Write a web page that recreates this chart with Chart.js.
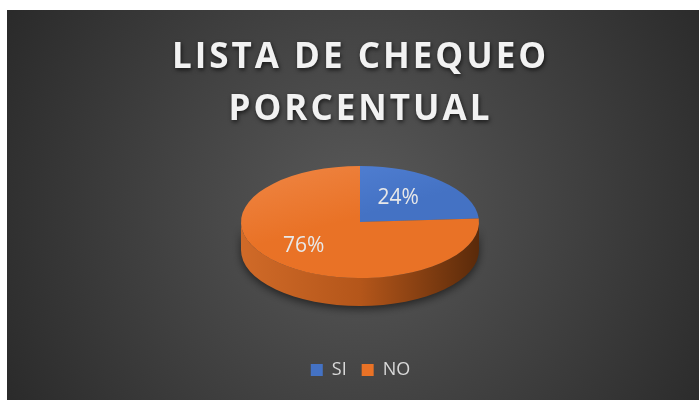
<!DOCTYPE html>
<html>
<head>
<meta charset="utf-8">
<script src="https://cdn.jsdelivr.net/npm/chart.js@4"></script>
<style>
  body { margin: 0; background: #ffffff; }
  #wrap { position: absolute; left: 7px; top: 10px; width: 692px; height: 390px; }
</style>
</head>
<body>
<div id="wrap"><canvas id="pieChart"></canvas></div>
<script>
const categories = ["SI", "NO"];
const values = [24, 76];
const sliceColors = ["#4472C4", "#E97226"];
const sliceLight = ["#5584d8", "#ef8645"];
const sideColors = [
  ["#3a63ad", "#2f5290", "#1c3260"],
  ["#d06a28", "#b4561a", "#5a2a0a"],
];
const titleLines = ["LISTA DE CHEQUEO", "PORCENTUAL"];

// ellipse used for the tilted pie (canvas coords)
const PIE_X = 353;
const PIE_Y = 212;
const PIE_RX = 119;
const PIE_RY = 56;
const PIE_DEPTH = 28;

const backgroundPlugin = {
  id: "background",
  afterInit(chart) {
    // draw the legend after the pie so the title text settings don't leak into it
    const legend = chart.legend;
    legend._layers = () => [{ z: 1, draw: (area) => legend.draw(area) }];
  },
  beforeDraw(chart) {
    const ctx = chart.ctx;
    ctx.save();
    const g = ctx.createRadialGradient(353, 200, 0, 353, 200, 440);
    g.addColorStop(0, "#595959");
    g.addColorStop(1, "#262626");
    ctx.fillStyle = g;
    ctx.fillRect(0, 0, chart.width, chart.height);
    ctx.restore();
    // title shadow + spacing, reset before the pie
    ctx.shadowColor = "rgba(0,0,0,0.65)";
    ctx.shadowBlur = 4;
    ctx.shadowOffsetX = 1;
    ctx.shadowOffsetY = 2;
    ctx.letterSpacing = "3px";
  },
};

const pie3dPlugin = {
  id: "pie3d",
  beforeDatasetsDraw(chart) {
    const ctx = chart.ctx;
    ctx.shadowColor = "transparent";
    ctx.shadowBlur = 0;
    ctx.shadowOffsetX = 0;
    ctx.shadowOffsetY = 0;
    ctx.letterSpacing = "0px";

    const meta = chart.getDatasetMeta(0);
    const first = meta.data[0];
    const cx0 = first.x, cy0 = first.y, r0 = first.outerRadius;

    // side walls (only the front half is visible)
    ctx.save();
    meta.data.forEach((arc, i) => {
      const a = Math.max(arc.startAngle, 0);
      const b = Math.min(arc.endAngle, Math.PI);
      if (a >= b) return;
      const g = ctx.createLinearGradient(PIE_X - PIE_RX, 0, PIE_X + PIE_RX, 0);
      g.addColorStop(0, sideColors[i][0]);
      g.addColorStop(0.5, sideColors[i][1]);
      g.addColorStop(1, sideColors[i][2]);
      ctx.beginPath();
      ctx.ellipse(PIE_X, PIE_Y, PIE_RX, PIE_RY, 0, a, b);
      ctx.ellipse(PIE_X, PIE_Y + PIE_DEPTH, PIE_RX, PIE_RY, 0, b, a, true);
      ctx.closePath();
      ctx.shadowColor = "rgba(0,0,0,0.55)";
      ctx.shadowBlur = 8;
      ctx.shadowOffsetY = 3;
      ctx.fillStyle = g;
      ctx.fill();
    });
    ctx.restore();

    // squash the library's circle into the top face
    ctx.save();
    ctx.translate(PIE_X, PIE_Y);
    ctx.scale(PIE_RX / r0, PIE_RY / r0);
    ctx.translate(-cx0, -cy0);
  },
  afterDatasetsDraw(chart) {
    const ctx = chart.ctx;
    ctx.restore();

    const meta = chart.getDatasetMeta(0);
    const total = values.reduce((s, v) => s + v, 0);
    ctx.save();
    ctx.font = '21px "Open Sans"';
    ctx.fillStyle = "#e8e8e8";
    ctx.textAlign = "center";
    ctx.textBaseline = "middle";
    meta.data.forEach((arc, i) => {
      const mid = (arc.startAngle + arc.endAngle) / 2;
      const x = PIE_X - 9 + 0.58 * PIE_RX * Math.cos(mid);
      const y = PIE_Y + 0.58 * PIE_RY * Math.sin(mid);
      ctx.fillText(Math.round((values[i] / total) * 100) + "%", x, y);
    });
    ctx.restore();
  },
};

function faceColor(context) {
  const area = context.chart.chartArea;
  const i = context.dataIndex;
  if (!area) return sliceColors[i];
  const cx = (area.left + area.right) / 2;
  const cy = (area.top + area.bottom) / 2;
  const r = Math.min(area.width, area.height) / 2;
  const g = context.chart.ctx.createLinearGradient(cx - r, cy - r, cx + r * 0.2, cy + r);
  g.addColorStop(0, sliceLight[i]);
  g.addColorStop(0.55, sliceColors[i]);
  g.addColorStop(1, sliceColors[i]);
  return g;
}

const ctx = document.getElementById("pieChart").getContext("2d");

new Chart(ctx, {
  type: "pie",
  data: {
    labels: categories,
    datasets: [
      {
        data: values,
        backgroundColor: faceColor,
        borderWidth: 0,
        clip: false,
      },
    ],
  },
  options: {
    responsive: true,
    maintainAspectRatio: false,
    animation: false,
    layout: { padding: { left: 15, bottom: 11 } },
    plugins: {
      tooltip: { enabled: false },
      title: {
        display: true,
        text: titleLines,
        color: "#f2f2f2",
        font: { family: "Open Sans", size: 35, weight: "bold", lineHeight: 1.486 },
        padding: { top: 22, bottom: 10 },
      },
      legend: {
        position: "bottom",
        labels: {
          color: "#d9d9d9",
          font: { family: "Open Sans", size: 18 },
          boxWidth: 12,
          boxHeight: 12,
          padding: 15,
          generateLabels: () =>
            categories.map((c, i) => ({
              text: c,
              fillStyle: sliceColors[i],
              strokeStyle: sliceColors[i],
              lineWidth: 0,
              fontColor: "#d9d9d9",
              index: i,
            })),
        },
      },
    },
  },
  plugins: [backgroundPlugin, pie3dPlugin],
});
</script>
</body>
</html>
